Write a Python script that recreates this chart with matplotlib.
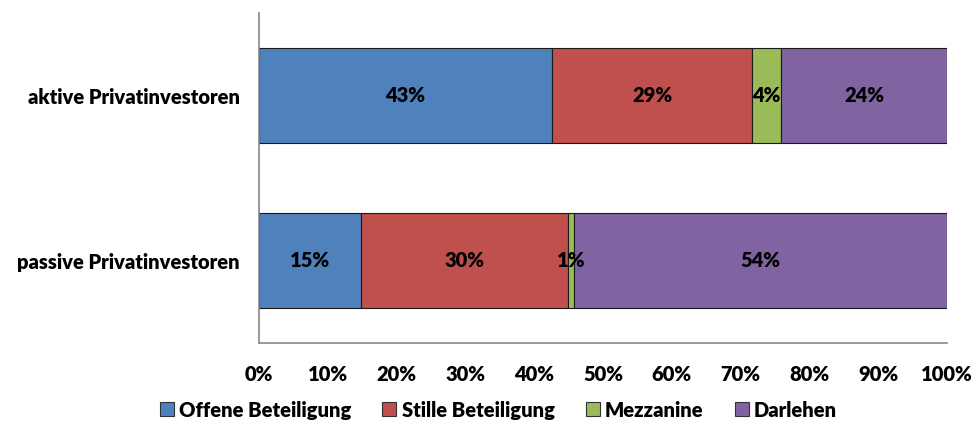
import numpy as np
import matplotlib
matplotlib.use("Agg")
import matplotlib.pyplot as plt
from matplotlib.lines import Line2D

plt.rcParams['font.family'] = ['Lato', 'DejaVu Sans']
plt.rcParams['font.weight'] = 'heavy'

categories = ['passive Privatinvestoren', 'aktive Privatinvestoren']
series = ['Offene Beteiligung', 'Stille Beteiligung', 'Mezzanine', 'Darlehen']
colors = ['#4F81BD', '#C0504D', '#9BBB59', '#8064A2']

# percent per series, one value per category (passive, aktive)
offene = [14.8, 42.6]
stille = [30.1, 29.1]
mezzanine = [0.9, 4.2]
darlehen = [54.2, 24.1]
values = [offene, stille, mezzanine, darlehen]

fs = 14.5

fig = plt.figure(figsize=(9.78, 4.24), dpi=100)
ax = fig.add_axes([0.2648, 0.191, 0.7035, 0.7783])

y = np.arange(len(categories))
left = np.zeros(len(categories))
for name, vals, c in zip(series, values, colors):
    vals = np.array(vals)
    ax.barh(y, vals, left=left, height=0.575, color=c,
            edgecolor='#1a1a1a', linewidth=0.8, label=name)
    for yi, l, v in zip(y, left, vals):
        ax.text(l + v / 2, yi, '%d%%' % round(v), ha='center', va='center',
                fontsize=fs, fontweight='heavy', color='black')
    left = left + vals

ax.set_xlim(0, 100)
ax.set_ylim(-0.5, 1.5)
ax.set_xticks(np.arange(0, 101, 10))
ax.set_xticklabels(['%d%%' % t for t in range(0, 101, 10)])
ax.set_yticks(y)
ax.set_yticklabels(categories)
ax.tick_params(axis='both', length=0, labelsize=fs)
ax.tick_params(axis='x', pad=16)
ax.tick_params(axis='y', pad=14)
for s in ['top', 'right']:
    ax.spines[s].set_visible(False)
for s in ['left', 'bottom']:
    ax.spines[s].set_color('#888888')
    ax.spines[s].set_linewidth(1.2)

handles = [Line2D([], [], marker='s', linestyle='none', markersize=10,
                  markerfacecolor=c, markeredgecolor='#333333', markeredgewidth=0.8)
           for c in colors]
fig.legend(handles, series, loc='center', bbox_to_anchor=(0.508, 0.033),
           ncol=4, frameon=False, fontsize=fs, handletextpad=0.1,
           columnspacing=1.4, handlelength=1.0)

fig.savefig('out.png', dpi=100)
